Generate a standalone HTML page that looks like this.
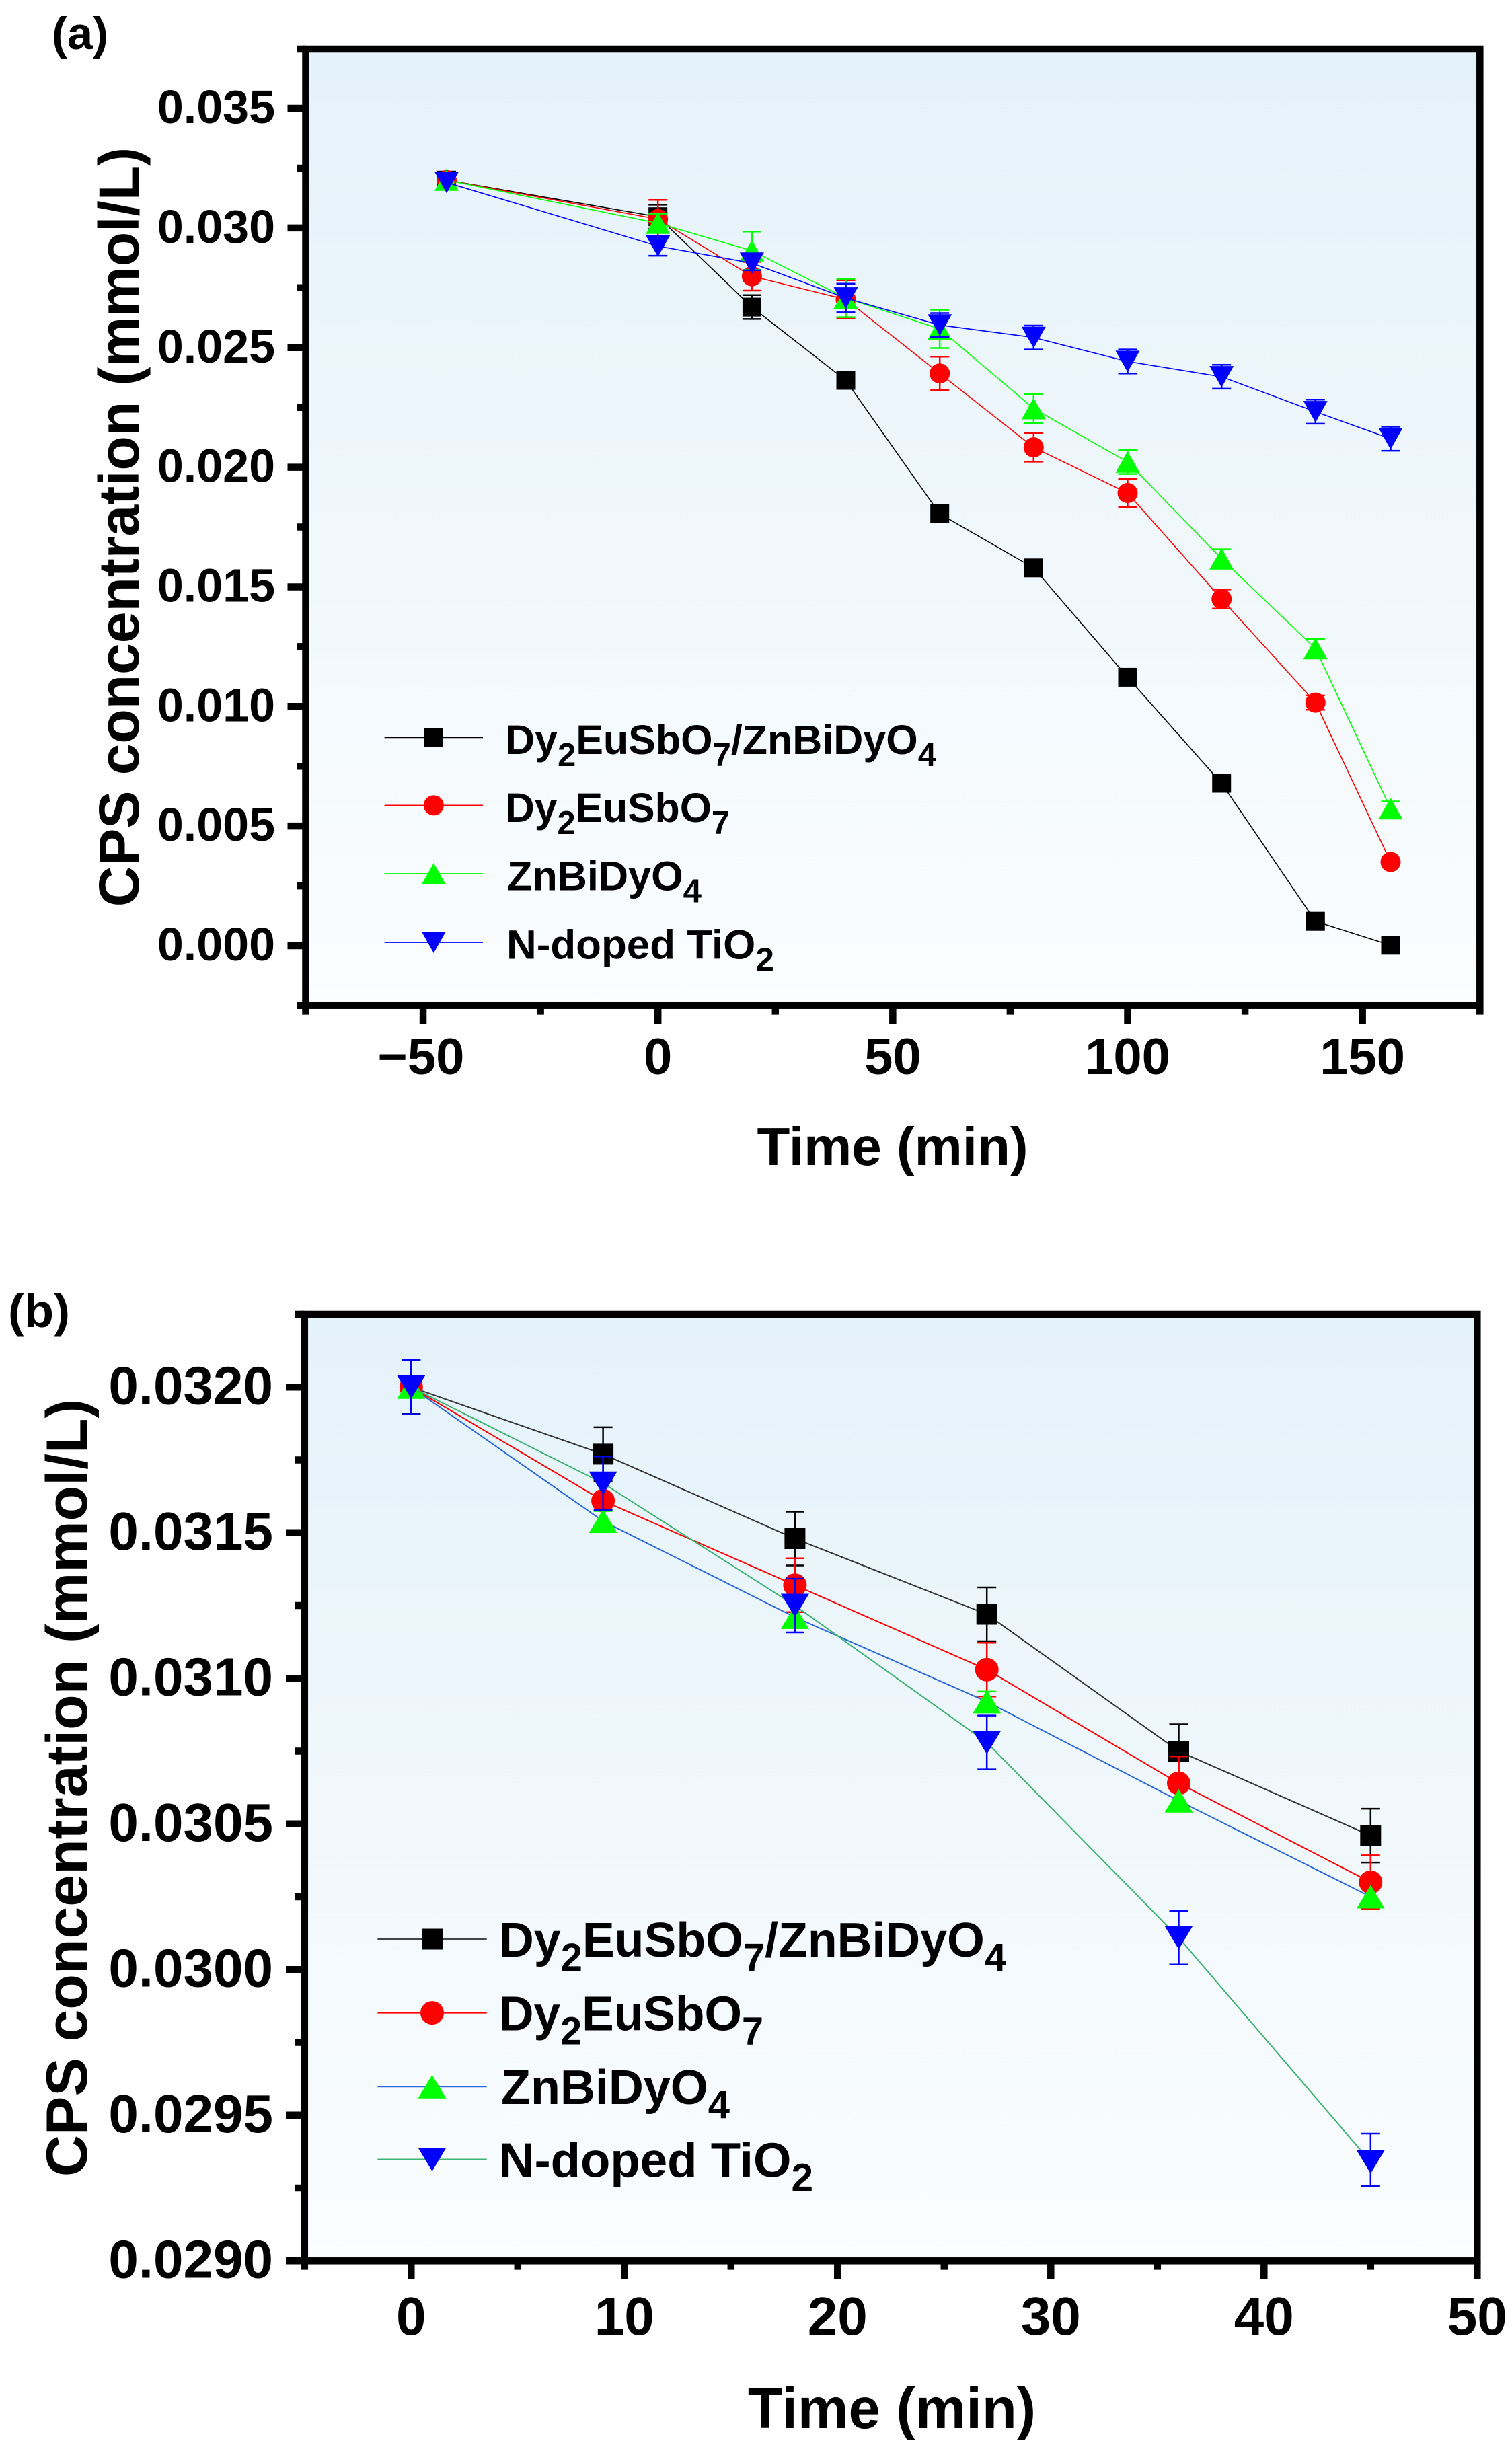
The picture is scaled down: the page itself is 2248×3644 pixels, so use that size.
<!DOCTYPE html>
<html><head><meta charset="utf-8"><style>
html,body{margin:0;padding:0;background:#fff;}
svg{display:block;}
text{font-family:"Liberation Sans",Arial,sans-serif;font-weight:bold;fill:#000;}
</style></head><body>
<svg width="2248" height="3644" viewBox="0 0 2248 3644" xmlns="http://www.w3.org/2000/svg">
<defs>
<linearGradient id="bg" x1="0" y1="0" x2="0" y2="1">
<stop offset="0" stop-color="#e4f2fa"/><stop offset="1" stop-color="#fbfdfe"/>
</linearGradient>
<rect id="sqA" x="-14" y="-14" width="28" height="28" fill="#000"/>
<circle id="ciA" r="15" fill="#ff0000"/>
<polygon id="tuA" points="0,-16 -18,16 18,16" fill="#00ff00"/>
<polygon id="tdA" points="-18,-16 18,-16 0,16" fill="#0000ff"/>
<rect id="sqB" x="-15.5" y="-15.5" width="31" height="31" fill="#000"/>
<circle id="ciB" r="17.5" fill="#ff0000"/>
<polygon id="tuB" points="0,-17.5 -21,17.5 21,17.5" fill="#00ff00"/>
<polygon id="tdB" points="-21,-17.5 21,-17.5 0,17.5" fill="#0000ff"/>
</defs>

<!-- ================= PANEL A ================= -->
<rect x="454.5" y="73" width="1745.8" height="1421.7" fill="url(#bg)"/>

<!-- black series -->
<polyline fill="none" stroke="#000" stroke-width="1.6" points="664,267.8 978.2,322.2 1117.9,456.6 1257.5,565.5 1397.2,764 1536.8,844.3 1676.5,1006.9 1816.2,1164.5 1955.8,1369.7 2067.5,1405.3"/>
<path fill="none" stroke="#000" stroke-width="2.5" d="M964.2 304.4H992.2M978.2 304.4V340M964.2 340H992.2 M1103.9 438.8H1131.9M1117.9 438.8V474.4M1103.9 474.4H1131.9 M1243.5 553.1H1271.5M1257.5 553.1V577.9M1243.5 577.9H1271.5"/>
<use href="#sqA" x="664" y="267.8"/><use href="#sqA" x="978.2" y="322.2"/><use href="#sqA" x="1117.9" y="456.6"/><use href="#sqA" x="1257.5" y="565.5"/><use href="#sqA" x="1397.2" y="764"/><use href="#sqA" x="1536.8" y="844.3"/><use href="#sqA" x="1676.5" y="1006.9"/><use href="#sqA" x="1816.2" y="1164.5"/><use href="#sqA" x="1955.8" y="1369.7"/><use href="#sqA" x="2067.5" y="1405.3"/>

<!-- red series -->
<polyline fill="none" stroke="#ff0000" stroke-width="1.6" points="664,267.8 978.2,325.7 1117.9,410.7 1257.5,445.2 1397.2,555.2 1536.8,665.1 1676.5,733 1816.2,890.6 1955.8,1044.6 2067.5,1281.5"/>
<path fill="none" stroke="#ff0000" stroke-width="2.5" d="M964.2 297.2H992.2M978.2 297.2V354.2M964.2 354.2H992.2 M1103.9 389.4H1131.9M1117.9 389.4V432M1103.9 432H1131.9 M1243.5 416.7H1271.5M1257.5 416.7V473.7M1243.5 473.7H1271.5 M1383.2 530.3H1411.2M1397.2 530.3V580.1M1383.2 580.1H1411.2 M1522.8 643.8H1550.8M1536.8 643.8V686.4M1522.8 686.4H1550.8 M1662.5 711.7H1690.5M1676.5 711.7V754.3M1662.5 754.3H1690.5 M1802.2 876.4H1830.2M1816.2 876.4V904.8M1802.2 904.8H1830.2 M1941.8 1033.9H1969.8M1955.8 1033.9V1055.3M1941.8 1055.3H1969.8"/>
<use href="#ciA" x="664" y="267.8"/><use href="#ciA" x="978.2" y="325.7"/><use href="#ciA" x="1117.9" y="410.7"/><use href="#ciA" x="1257.5" y="445.2"/><use href="#ciA" x="1397.2" y="555.2"/><use href="#ciA" x="1536.8" y="665.1"/><use href="#ciA" x="1676.5" y="733"/><use href="#ciA" x="1816.2" y="890.6"/><use href="#ciA" x="1955.8" y="1044.6"/><use href="#ciA" x="2067.5" y="1281.5"/>

<!-- green series -->
<polyline fill="none" stroke="#00ff00" stroke-width="1.6" points="664,267.8 978.2,331.8 1117.9,372.7 1257.5,443.1 1397.2,489 1536.8,607.5 1676.5,686.8 1816.2,830.8 1955.8,964.2 2067.5,1202.2"/>
<path fill="none" stroke="#00ff00" stroke-width="2.5" d="M964.2 317.6H992.2M978.2 317.6V346M964.2 346H992.2 M1103.9 344.2H1131.9M1117.9 344.2V401.2M1103.9 401.2H1131.9 M1243.5 414.6H1271.5M1257.5 414.6V471.6M1243.5 471.6H1271.5 M1383.2 460.5H1411.2M1397.2 460.5V517.5M1383.2 517.5H1411.2 M1522.8 586.2H1550.8M1536.8 586.2V628.8M1522.8 628.8H1550.8 M1662.5 669H1690.5M1676.5 669V704.6M1662.5 704.6H1690.5 M1802.2 816.6H1830.2M1816.2 816.6V845M1802.2 845H1830.2 M1941.8 950H1969.8M1955.8 950V978.4M1941.8 978.4H1969.8 M2053.5 1191.5H2081.5M2067.5 1191.5V1212.9M2053.5 1212.9H2081.5"/>
<use href="#tuA" x="664" y="267.8"/><use href="#tuA" x="978.2" y="331.8"/><use href="#tuA" x="1117.9" y="372.7"/><use href="#tuA" x="1257.5" y="443.1"/><use href="#tuA" x="1397.2" y="489"/><use href="#tuA" x="1536.8" y="607.5"/><use href="#tuA" x="1676.5" y="686.8"/><use href="#tuA" x="1816.2" y="830.8"/><use href="#tuA" x="1955.8" y="964.2"/><use href="#tuA" x="2067.5" y="1202.2"/>

<!-- blue series -->
<polyline fill="none" stroke="#0000ff" stroke-width="1.6" points="664,271.3 978.2,365.9 1117.9,391.2 1257.5,443.1 1397.2,483.3 1536.8,501.8 1676.5,537.4 1816.2,560.1 1955.8,612.1 2067.5,652.3"/>
<path fill="none" stroke="#0000ff" stroke-width="2.5" d="M964.2 351.7H992.2M978.2 351.7V380.1M964.2 380.1H992.2 M1103.9 380.5H1131.9M1117.9 380.5V401.9M1103.9 401.9H1131.9 M1243.5 421.8H1271.5M1257.5 421.8V464.4M1243.5 464.4H1271.5 M1383.2 465.5H1411.2M1397.2 465.5V501.1M1383.2 501.1H1411.2 M1522.8 484H1550.8M1536.8 484V519.6M1522.8 519.6H1550.8 M1662.5 519.6H1690.5M1676.5 519.6V555.2M1662.5 555.2H1690.5 M1802.2 542.3H1830.2M1816.2 542.3V577.9M1802.2 577.9H1830.2 M1941.8 594.3H1969.8M1955.8 594.3V629.9M1941.8 629.9H1969.8 M2053.5 634.5H2081.5M2067.5 634.5V670.1M2053.5 670.1H2081.5"/>
<use href="#tdA" x="664" y="271.3"/><use href="#tdA" x="978.2" y="365.9"/><use href="#tdA" x="1117.9" y="391.2"/><use href="#tdA" x="1257.5" y="443.1"/><use href="#tdA" x="1397.2" y="483.3"/><use href="#tdA" x="1536.8" y="501.8"/><use href="#tdA" x="1676.5" y="537.4"/><use href="#tdA" x="1816.2" y="560.1"/><use href="#tdA" x="1955.8" y="612.1"/><use href="#tdA" x="2067.5" y="652.3"/>

<!-- legend A -->
<line x1="571.6" y1="1096.4" x2="718" y2="1096.4" stroke="#000" stroke-width="1.8"/>
<use href="#sqA" x="644.8" y="1096.4"/>
<line x1="571.6" y1="1197.4" x2="718" y2="1197.4" stroke="#ff0000" stroke-width="1.8"/>
<use href="#ciA" x="644.8" y="1197.4"/>
<line x1="571.6" y1="1299" x2="718" y2="1299" stroke="#00ff00" stroke-width="1.8"/>
<use href="#tuA" x="644.8" y="1299"/>
<line x1="571.6" y1="1401" x2="718" y2="1401" stroke="#0000ff" stroke-width="1.8"/>
<use href="#tdA" x="644.8" y="1401"/>
<g font-size="61">
<text x="751" y="1121" textLength="641" lengthAdjust="spacingAndGlyphs">Dy<tspan font-size="49" dy="18">2</tspan><tspan dy="-18">EuSbO</tspan><tspan font-size="49" dy="18">7</tspan><tspan dy="-18">/ZnBiDyO</tspan><tspan font-size="49" dy="18">4</tspan></text>
<text x="751" y="1222" textLength="334" lengthAdjust="spacingAndGlyphs">Dy<tspan font-size="49" dy="18">2</tspan><tspan dy="-18">EuSbO</tspan><tspan font-size="49" dy="18">7</tspan></text>
<text x="754" y="1323.6" textLength="289" lengthAdjust="spacingAndGlyphs">ZnBiDyO<tspan font-size="49" dy="18">4</tspan></text>
<text x="753" y="1425.6" textLength="398" lengthAdjust="spacingAndGlyphs">N-doped TiO<tspan font-size="49" dy="18">2</tspan></text>
</g>

<!-- axes A -->
<rect x="454.5" y="73" width="1745.8" height="1421.7" fill="none" stroke="#000" stroke-width="10.5"/>
<path fill="none" stroke="#000" stroke-width="10.5" d="M454.5 1406H427.5 M454.5 1228.15H427.5 M454.5 1050.3H427.5 M454.5 872.45H427.5 M454.5 694.6H427.5 M454.5 516.75H427.5 M454.5 338.9H427.5 M454.5 161.05H427.5
M454.5 1494.7H441 M454.5 1317.1H441 M454.5 1139.2H441 M454.5 961.4H441 M454.5 783.5H441 M454.5 605.7H441 M454.5 427.8H441 M454.5 250H441 M454.5 73H441
M629.05 1494.7V1522 M978.2 1494.7V1522 M1327.35 1494.7V1522 M1676.5 1494.7V1522 M2025.65 1494.7V1522
M454.5 1494.7V1508.6 M803.6 1494.7V1508.6 M1152.8 1494.7V1508.6 M1501.9 1494.7V1508.6 M1851.1 1494.7V1508.6 M2200.3 1494.7V1508.6"/>
<g font-size="70" text-anchor="end">
<text x="409" y="1428">0.000</text>
<text x="409" y="1250.15">0.005</text>
<text x="409" y="1072.3">0.010</text>
<text x="409" y="894.45">0.015</text>
<text x="409" y="716.6">0.020</text>
<text x="409" y="538.75">0.025</text>
<text x="409" y="360.9">0.030</text>
<text x="409" y="183.05">0.035</text>
</g>
<g font-size="76" text-anchor="middle">
<text x="626" y="1597">−50</text>
<text x="978.2" y="1597">0</text>
<text x="1327.35" y="1597">50</text>
<text x="1676.5" y="1597">100</text>
<text x="2025.65" y="1597">150</text>
</g>
<text x="1327" y="1732" font-size="80" text-anchor="middle">Time (min)</text>
<text transform="translate(206,783.6) rotate(-90)" font-size="84" text-anchor="middle">CPS concentration (mmol/L)</text>
<text x="77" y="73" font-size="68" textLength="84" lengthAdjust="spacingAndGlyphs">(a)</text>

<!-- ================= PANEL B ================= -->
<rect x="452.8" y="1954" width="1743.5" height="1407.3" fill="url(#bg)"/>

<!-- black series -->
<polyline fill="none" stroke="#333" stroke-width="2" points="611.3,2062.3 896.6,2161.9 1181.9,2287.5 1467.2,2400 1752.5,2603.5 2037.8,2729.1"/>
<path fill="none" stroke="#000" stroke-width="2.5" d="M597.3 2022.3H625.3M611.3 2022.3V2102.3M597.3 2102.3H625.3 M882.6 2121.9H910.6M896.6 2121.9V2201.9M882.6 2201.9H910.6 M1167.9 2247.5H1195.9M1181.9 2247.5V2327.5M1167.9 2327.5H1195.9 M1453.2 2360H1481.2M1467.2 2360V2440M1453.2 2440H1481.2 M1738.5 2563.5H1766.5M1752.5 2563.5V2643.5M1738.5 2643.5H1766.5 M2023.8 2689.1H2051.8M2037.8 2689.1V2769.1M2023.8 2769.1H2051.8"/>
<use href="#sqB" x="611.3" y="2062.3"/><use href="#sqB" x="896.6" y="2161.9"/><use href="#sqB" x="1181.9" y="2287.5"/><use href="#sqB" x="1467.2" y="2400"/><use href="#sqB" x="1752.5" y="2603.5"/><use href="#sqB" x="2037.8" y="2729.1"/>

<!-- red series -->
<polyline fill="none" stroke="#ff0000" stroke-width="2" points="611.3,2062.3 896.6,2231.2 1181.9,2356.7 1467.2,2482.3 1752.5,2651.2 2037.8,2798.4"/>
<path fill="none" stroke="#ff0000" stroke-width="2.5" d="M882.6 2191.2H910.6M896.6 2191.2V2271.2M882.6 2271.2H910.6 M1167.9 2316.7H1195.9M1181.9 2316.7V2396.7M1167.9 2396.7H1195.9 M1453.2 2442.3H1481.2M1467.2 2442.3V2522.3M1453.2 2522.3H1481.2 M1738.5 2611.2H1766.5M1752.5 2611.2V2691.2M1738.5 2691.2H1766.5 M2023.8 2758.4H2051.8M2037.8 2758.4V2838.4M2023.8 2838.4H2051.8"/>
<use href="#ciB" x="611.3" y="2062.3"/><use href="#ciB" x="896.6" y="2231.2"/><use href="#ciB" x="1181.9" y="2356.7"/><use href="#ciB" x="1467.2" y="2482.3"/><use href="#ciB" x="1752.5" y="2651.2"/><use href="#ciB" x="2037.8" y="2798.4"/>

<!-- green-marker series (blue line) -->
<polyline fill="none" stroke="#2a6ad8" stroke-width="2" points="611.3,2062.3 896.6,2261.5 1181.9,2404.4 1467.2,2529.9 1752.5,2677.2 2037.8,2820"/>
<path fill="none" stroke="#00ff00" stroke-width="2.5" d="M882.6 2246.5H910.6M896.6 2246.5V2276.5M882.6 2276.5H910.6 M1453.2 2514.9H1481.2M1467.2 2514.9V2544.9M1453.2 2544.9H1481.2"/>
<use href="#tuB" x="611.3" y="2062.3"/><use href="#tuB" x="896.6" y="2261.5"/><use href="#tuB" x="1181.9" y="2404.4"/><use href="#tuB" x="1467.2" y="2529.9"/><use href="#tuB" x="1752.5" y="2677.2"/><use href="#tuB" x="2037.8" y="2820"/>

<!-- blue-marker series (green line) -->
<polyline fill="none" stroke="#3cb371" stroke-width="2" points="611.3,2062.3 896.6,2205.2 1181.9,2387 1467.2,2590.6 1752.5,2880.7 2037.8,3214.1"/>
<path fill="none" stroke="#0000ff" stroke-width="2.5" d="M597.3 2022H625.3M611.3 2022V2102.6M597.3 2102.6H625.3 M882.6 2165.2H910.6M896.6 2165.2V2245.2M882.6 2245.2H910.6 M1167.9 2347H1195.9M1181.9 2347V2427M1167.9 2427H1195.9 M1453.2 2550.6H1481.2M1467.2 2550.6V2630.6M1453.2 2630.6H1481.2 M1738.5 2840.7H1766.5M1752.5 2840.7V2920.7M1738.5 2920.7H1766.5 M2023.8 3172H2051.8M2037.8 3172V3250M2023.8 3250H2051.8"/>
<use href="#tdB" x="611.3" y="2062.3"/><use href="#tdB" x="896.6" y="2205.2"/><use href="#tdB" x="1181.9" y="2387"/><use href="#tdB" x="1467.2" y="2590.6"/><use href="#tdB" x="1752.5" y="2880.7"/><use href="#tdB" x="2037.8" y="3214.1"/>

<!-- legend B -->
<line x1="561.4" y1="2883" x2="723.7" y2="2883" stroke="#444" stroke-width="2"/>
<use href="#sqB" x="642.5" y="2883"/>
<line x1="561.4" y1="2992.6" x2="723.7" y2="2992.6" stroke="#ff0000" stroke-width="2"/>
<use href="#ciB" x="642.5" y="2992.6"/>
<line x1="561.4" y1="3102.2" x2="723.7" y2="3102.2" stroke="#2a6ad8" stroke-width="2"/>
<use href="#tuB" x="642.5" y="3102.2"/>
<line x1="561.4" y1="3210.5" x2="723.7" y2="3210.5" stroke="#3cb371" stroke-width="2"/>
<use href="#tdB" x="642.5" y="3210.5"/>
<g font-size="72">
<text x="742" y="2909" textLength="754" lengthAdjust="spacingAndGlyphs">Dy<tspan font-size="58" dy="21">2</tspan><tspan dy="-21">EuSbO</tspan><tspan font-size="58" dy="21">7</tspan><tspan dy="-21">/ZnBiDyO</tspan><tspan font-size="58" dy="21">4</tspan></text>
<text x="742" y="3018.6" textLength="393" lengthAdjust="spacingAndGlyphs">Dy<tspan font-size="58" dy="21">2</tspan><tspan dy="-21">EuSbO</tspan><tspan font-size="58" dy="21">7</tspan></text>
<text x="745" y="3128.2" textLength="340" lengthAdjust="spacingAndGlyphs">ZnBiDyO<tspan font-size="58" dy="21">4</tspan></text>
<text x="742" y="3236.5" textLength="467" lengthAdjust="spacingAndGlyphs">N-doped TiO<tspan font-size="58" dy="21">2</tspan></text>
</g>

<!-- axes B -->
<rect x="452.8" y="1954" width="1743.5" height="1407.3" fill="none" stroke="#000" stroke-width="10.5"/>
<path fill="none" stroke="#000" stroke-width="10.5" d="M452.8 3361.3H425 M452.8 3144.8H425 M452.8 2928.3H425 M452.8 2711.8H425 M452.8 2495.3H425 M452.8 2278.8H425 M452.8 2062.3H425
M452.8 3253.05H438 M452.8 3036.55H438 M452.8 2820.05H438 M452.8 2603.55H438 M452.8 2387.05H438 M452.8 2170.55H438 M452.8 1954H438
M611.3 3361.3V3389 M928.3 3361.3V3389 M1245.3 3361.3V3389 M1562.3 3361.3V3389 M1879.3 3361.3V3389 M2196.3 3361.3V3389
M452.8 3361.3V3374.6 M769.8 3361.3V3374.6 M1086.8 3361.3V3374.6 M1403.8 3361.3V3374.6 M1720.8 3361.3V3374.6 M2037.8 3361.3V3374.6"/>
<g font-size="80" text-anchor="end">
<text x="406" y="3386.3">0.0290</text>
<text x="406" y="3169.8">0.0295</text>
<text x="406" y="2953.3">0.0300</text>
<text x="406" y="2736.8">0.0305</text>
<text x="406" y="2520.3">0.0310</text>
<text x="406" y="2303.8">0.0315</text>
<text x="406" y="2087.3">0.0320</text>
</g>
<g font-size="80" text-anchor="middle">
<text x="611.3" y="3471">0</text>
<text x="928.3" y="3471">10</text>
<text x="1245.3" y="3471">20</text>
<text x="1562.3" y="3471">30</text>
<text x="1879.3" y="3471">40</text>
<text x="2196.3" y="3471">50</text>
</g>
<text x="1326" y="3610" font-size="85" text-anchor="middle">Time (min)</text>
<text transform="translate(129,2658) rotate(-90)" font-size="86" text-anchor="middle">CPS concentration (mmol/L)</text>
<text x="12" y="1973" font-size="70" textLength="92" lengthAdjust="spacingAndGlyphs">(b)</text>
</svg>
</body></html>
